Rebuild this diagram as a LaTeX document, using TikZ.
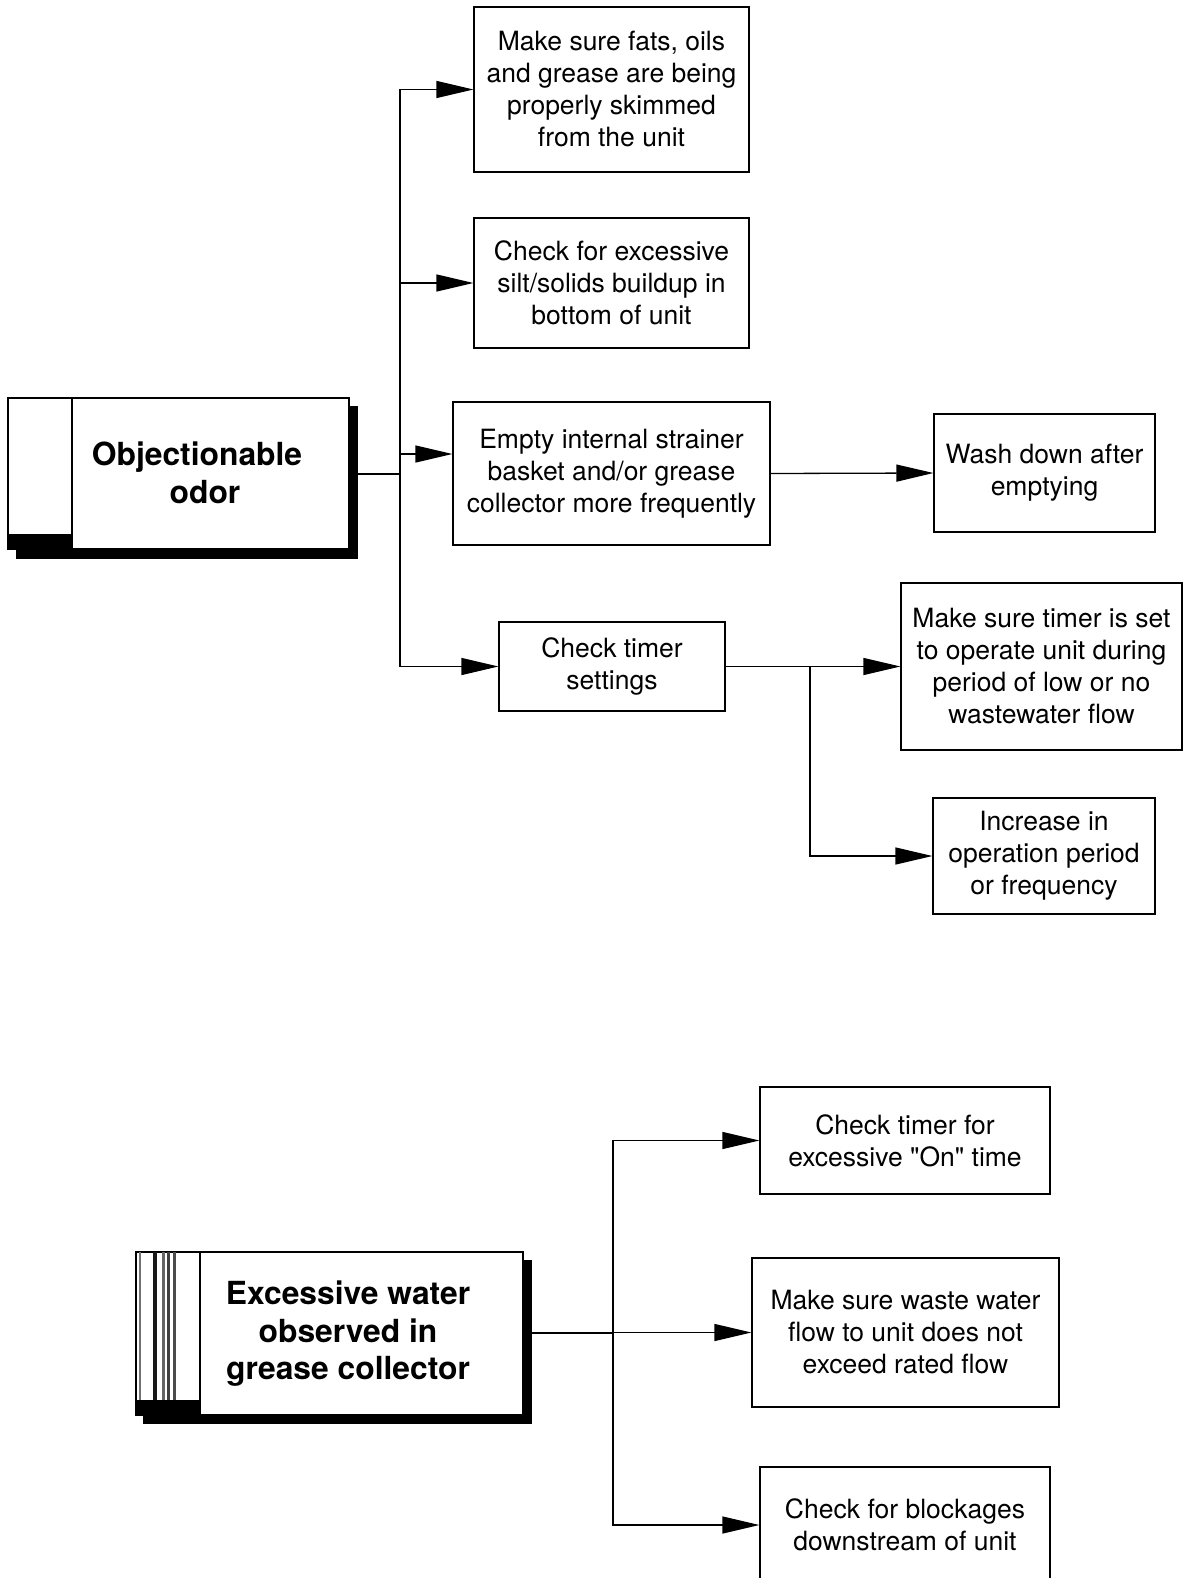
\documentclass[tikz,border=0pt]{standalone}
\usepackage{fontspec}
\setmainfont{TeX Gyre Heros}
\usetikzlibrary{arrows.meta}
\begin{document}
\begin{tikzpicture}[x=1pt,y=-1pt,line width=1.2pt,
  box/.style={draw,fill=white,rectangle,inner sep=0pt,align=center,
    font=\fontsize{26.5}{32}\selectfont},
  title/.style={align=center,inner sep=0pt,font=\fontsize{31.8}{37.5}\selectfont\bfseries},
  arr/.style={-{Triangle[length=37pt,width=17pt]}},
  conn/.style={line width=1.3pt}]
\useasboundingbox (0,0) rectangle (1183,1578);

% ---- Objectionable odor box
\fill (16,406) rectangle (358,559);
\node[draw,fill=white,minimum width=341pt,minimum height=151pt,inner sep=0pt] (odor) at (178.5,473.5) {};
\draw (72,398) -- (72,549);
\fill (8,534) rectangle (72,549);
\node[title] (odortext) at (197,473) {Objectionable\\\hspace*{16pt}odor};

% ---- Excessive water box
\fill (143,1260) rectangle (532,1424);
\node[draw,fill=white,minimum width=387pt,minimum height=163pt,inner sep=0pt] (water) at (329.5,1333.5) {};
\draw (200,1252) -- (200,1415);
\draw[line width=2pt,black!55] (139.5,1252) -- (139.5,1400);
\draw[line width=4pt,black!90] (154.5,1252) -- (154.5,1400);
\draw[line width=2.5pt,black!60] (163.5,1252) -- (163.5,1400);
\draw[line width=2.5pt,black!75] (168.5,1252) -- (168.5,1400);
\draw[line width=3pt,black!70] (174.5,1252) -- (174.5,1400);
\fill (136,1400) rectangle (200,1415);
\node[title] (watertext) at (348,1334) {Excessive water\\observed in\\grease collector};

% ---- Top branch boxes
\node[box,minimum width=275pt,minimum height=165pt] (A) at (611.5,89.5)
  {Make sure fats, oils\\and grease are being\\properly skimmed\\from the unit};
\node[box,minimum width=275pt,minimum height=130pt] (B) at (611.5,283)
  {Check for excessive\\silt/solids buildup in\\bottom of unit};
\node[box,minimum width=317pt,minimum height=143pt] (C) at (611.5,473.5)
  {Empty internal strainer\\basket and/or grease\\collector more frequently};
\node[box,minimum width=221pt,minimum height=118pt] (D) at (1044.5,473)
  {Wash down after\\emptying};
\node[box,minimum width=226pt,minimum height=89pt] (E) at (612,666.5)
  {Check timer\\settings};
\node[box,minimum width=281pt,minimum height=167pt] (F) at (1041.5,666.5)
  {Make sure timer is set\\to operate unit during\\period of low or no\\wastewater flow};
\node[box,minimum width=222pt,minimum height=116pt] (G) at (1044,856)
  {Increase in\\operation period\\or frequency};

% ---- Bottom branch boxes
\node[box,minimum width=290pt,minimum height=107pt] (H) at (905,1140.5)
  {Check timer for\\excessive \textquotedbl On\textquotedbl\ time};
\node[box,minimum width=307pt,minimum height=149pt] (I) at (905.5,1332.5)
  {Make sure waste water\\flow to unit does not\\exceed rated flow};
\node[box,minimum width=290pt,minimum height=116pt] (J) at (905,1525)
  {Check for blockages\\downstream of unit};

% ---- Connectors (top)
\coordinate (j1) at (400,474);
\coordinate (cin) at ([yshift=19.5pt]C.west);
\coordinate (j3) at (810,666.5);
\draw[conn] (odor.east |- j1) -- (j1);
\draw[conn,arr] (j1) |- (A.west);
\draw[conn,arr] (j1) |- (B.west);
\draw[conn,arr] (j1) |- (cin);
\draw[conn,arr] (j1) |- (E.west);
\draw[conn,arr] (C.east) -- (D.west);
\draw[conn,arr] (E.east) -- (F.west);
\draw[conn,arr] (j3) |- (G.west);

% ---- Connectors (bottom)
\coordinate (j2) at (613,1333);
\draw[conn] (water.east |- j2) -- (j2);
\draw[conn,arr] (j2) |- (H.west);
\draw[conn,arr] (j2) |- (I.west);
\draw[conn,arr] (j2) |- (J.west);
\end{tikzpicture}
\end{document}
